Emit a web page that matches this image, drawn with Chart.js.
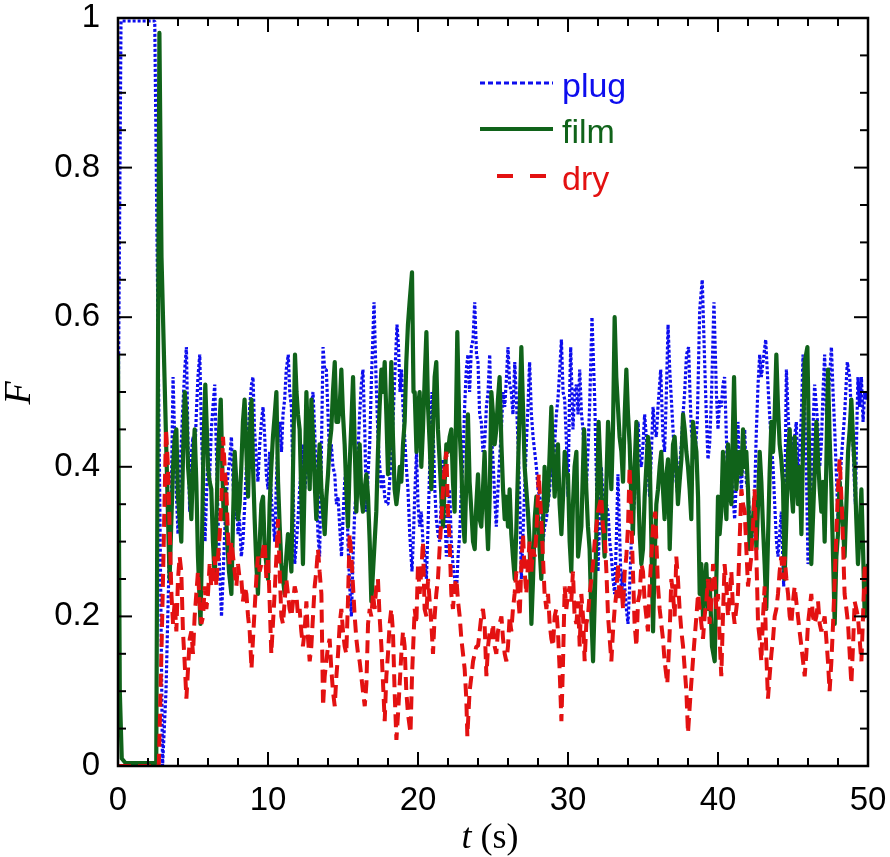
<!DOCTYPE html>
<html><head><meta charset="utf-8">
<script src="https://cdn.jsdelivr.net/npm/chart.js@4.4.0/dist/chart.umd.min.js"></script>
<style>html,body{margin:0;padding:0;background:#fff;}canvas{display:block;}</style>
</head><body>
<canvas id="c" width="890" height="857"></canvas>
<script>
// ---------- data (t in s, F) ----------
const xTickLabels = ['0','10','20','30','40','50'];
const yTickLabels = ['0','0.2','0.4','0.6','0.8','1'];
const seriesNames = ['plug','film','dry'];
const xAxisTitle = ['t', ' (s)'];
const yAxisTitle = 'F';

const plugPoints = [[0,0.43],[0.2,0.996],[2.45,0.996],[2.97,0.0],[3.2,0.1],[3.45,0.31],[3.56,0.37],[3.67,0.52],[3.8,0.42],[3.9,0.36],[4.0,0.31],[4.15,0.40],[4.3,0.47],[4.45,0.53],[4.56,0.56],[4.67,0.43],[4.78,0.34],[4.9,0.42],[5.0,0.44],[5.1,0.40],[5.22,0.47],[5.33,0.52],[5.45,0.55],[5.56,0.45],[5.67,0.38],[5.8,0.30],[5.9,0.36],[6.0,0.42],[6.1,0.38],[6.22,0.45],[6.33,0.48],[6.45,0.51],[6.56,0.42],[6.67,0.33],[6.78,0.26],[6.9,0.20],[7.0,0.25],[7.11,0.31],[7.22,0.36],[7.33,0.39],[7.45,0.41],[7.56,0.44],[7.67,0.38],[7.78,0.33],[7.9,0.36],[8.0,0.31],[8.1,0.33],[8.22,0.28],[8.33,0.30],[8.45,0.35],[8.56,0.40],[8.67,0.44],[8.78,0.48],[8.9,0.51],[9.0,0.52],[9.1,0.45],[9.22,0.41],[9.33,0.38],[9.45,0.43],[9.56,0.46],[9.67,0.48],[9.78,0.44],[9.89,0.39],[10.0,0.37],
[10.11,0.42],[10.22,0.36],[10.33,0.33],[10.45,0.30],[10.56,0.38],[10.67,0.44],[10.78,0.46],[10.9,0.42],[11.0,0.47],[11.11,0.49],[11.22,0.53],[11.35,0.55],[11.45,0.50],[11.56,0.48],[11.67,0.38],[11.78,0.27],[11.9,0.30],[12.0,0.33],[12.11,0.37],[12.22,0.40],[12.33,0.43],[12.45,0.37],[12.56,0.39],[12.67,0.41],[12.78,0.45],[12.9,0.48],[13.0,0.50],[13.11,0.45],[13.22,0.38],[13.33,0.31],[13.44,0.28],[13.56,0.42],[13.67,0.56],[13.78,0.53],[13.89,0.53],[14.0,0.47],[14.11,0.41],[14.22,0.43],[14.33,0.40],[14.45,0.39],[14.56,0.35],[14.67,0.36],[14.78,0.32],[14.9,0.28],[15.0,0.33],[15.11,0.38],[15.22,0.40],[15.33,0.30],[15.45,0.24],[15.56,0.20],[15.67,0.28],[15.78,0.34],[15.89,0.37],[16.0,0.42],[16.11,0.47],[16.22,0.51],[16.33,0.53],[16.45,0.45],[16.56,0.34],[16.67,0.39],[16.78,0.43],[16.9,0.52],[17.07,0.62],[17.2,0.52],[17.33,0.44],[17.45,0.40],[17.56,0.37],[17.67,0.39],[17.78,0.36],[17.9,0.35],[18.0,0.35],[18.11,0.38],[18.22,0.42],[18.33,0.46],[18.45,0.52],[18.6,0.59],[18.7,0.56],[18.8,0.50],[18.9,0.53],[19.0,0.48],[19.11,0.44],[19.22,0.40],[19.33,0.37],[19.45,0.31],[19.6,0.26],[19.7,0.31],[19.78,0.36],[19.9,0.42],[20.0,0.35],
[20.11,0.32],[20.22,0.34],[20.33,0.30],[20.45,0.28],[20.56,0.25],[20.67,0.32],[20.78,0.40],[20.93,0.50],[21.05,0.42],[21.12,0.37],[21.22,0.33],[21.33,0.31],[21.44,0.30],[21.56,0.36],[21.67,0.41],[21.78,0.35],[21.89,0.28],[22.0,0.33],[22.11,0.37],[22.22,0.30],[22.33,0.27],[22.45,0.25],[22.56,0.23],[22.67,0.28],[22.78,0.31],[22.89,0.37],[23.0,0.41],[23.11,0.48],[23.22,0.53],[23.33,0.55],[23.44,0.50],[23.56,0.56],[23.67,0.57],[23.78,0.62],[23.9,0.55],[24.0,0.54],[24.11,0.47],[24.22,0.46],[24.33,0.42],[24.44,0.43],[24.56,0.48],[24.67,0.50],[24.78,0.55],[24.9,0.44],[25.0,0.41],[25.11,0.36],[25.22,0.32],[25.33,0.37],[25.44,0.41],[25.56,0.45],[25.67,0.50],[25.78,0.48],[25.9,0.52],[26.0,0.56],[26.11,0.51],[26.22,0.50],[26.33,0.47],[26.45,0.54],[26.56,0.49],[26.67,0.43],[26.78,0.36],[26.89,0.25],[27.0,0.31],[27.11,0.37],[27.22,0.43],[27.33,0.48],[27.44,0.54],[27.56,0.47],[27.67,0.44],[27.78,0.42],[27.89,0.40],[28.0,0.37],[28.11,0.36],[28.22,0.35],[28.33,0.30],[28.44,0.32],[28.56,0.33],[28.67,0.35],[28.78,0.37],[28.89,0.41],[29.0,0.39],[29.11,0.43],[29.22,0.47],[29.33,0.49],[29.45,0.53],[29.56,0.57],[29.67,0.50],[29.78,0.49],[29.9,0.43],[30.0,0.36],
[30.09,0.48],[30.18,0.56],[30.33,0.45],[30.44,0.50],[30.56,0.51],[30.67,0.47],[30.78,0.53],[30.9,0.47],[31.0,0.45],[31.11,0.40],[31.22,0.37],[31.33,0.42],[31.44,0.48],[31.6,0.60],[31.78,0.49],[31.9,0.38],[32.0,0.26],[32.11,0.33],[32.22,0.40],[32.33,0.36],[32.44,0.32],[32.56,0.35],[32.67,0.34],[32.78,0.30],[32.89,0.28],[33.0,0.25],[33.11,0.23],[33.22,0.30],[33.33,0.39],[33.44,0.31],[33.56,0.23],[33.67,0.26],[33.78,0.24],[33.89,0.21],[34.0,0.19],[34.11,0.24],[34.22,0.30],[34.33,0.33],[34.44,0.36],[34.56,0.41],[34.67,0.46],[34.78,0.41],[34.89,0.40],[35.0,0.43],[35.11,0.47],[35.22,0.44],[35.33,0.40],[35.44,0.36],[35.56,0.42],[35.67,0.48],[35.78,0.45],[35.89,0.44],[36.0,0.48],[36.18,0.53],[36.33,0.44],[36.44,0.42],[36.56,0.50],[36.67,0.59],[36.78,0.53],[36.89,0.49],[37.0,0.45],[37.11,0.41],[37.22,0.38],[37.33,0.36],[37.44,0.40],[37.56,0.43],[37.67,0.47],[37.78,0.50],[37.9,0.55],[38.04,0.56],[38.13,0.50],[38.22,0.45],[38.33,0.43],[38.44,0.41],[38.62,0.46],[38.78,0.61],[38.95,0.65],[39.11,0.54],[39.22,0.47],[39.33,0.41],[39.44,0.43],[39.56,0.49],[39.73,0.62],[39.89,0.50],[40.0,0.45],
[40.11,0.49],[40.22,0.48],[40.33,0.51],[40.44,0.52],[40.56,0.44],[40.67,0.37],[40.78,0.40],[40.89,0.39],[41.0,0.36],[41.11,0.33],[41.22,0.38],[41.33,0.46],[41.44,0.40],[41.56,0.37],[41.67,0.42],[41.78,0.45],[41.89,0.38],[42.0,0.37],[42.11,0.33],[42.22,0.29],[42.33,0.33],[42.44,0.36],[42.56,0.45],[42.67,0.51],[42.78,0.55],[42.89,0.52],[43.0,0.54],[43.18,0.57],[43.33,0.51],[43.44,0.47],[43.56,0.43],[43.67,0.40],[43.78,0.35],[43.9,0.30],[44.0,0.28],[44.11,0.31],[44.22,0.34],[44.38,0.24],[44.56,0.53],[44.67,0.47],[44.78,0.43],[44.89,0.44],[45.0,0.41],[45.11,0.44],[45.22,0.46],[45.33,0.39],[45.44,0.42],[45.56,0.47],[45.67,0.55],[45.78,0.48],[45.89,0.40],[46.0,0.27],[46.11,0.30],[46.22,0.38],[46.33,0.45],[46.44,0.51],[46.56,0.48],[46.67,0.45],[46.78,0.40],[46.89,0.43],[47.0,0.50],[47.11,0.55],[47.22,0.47],[47.33,0.49],[47.44,0.52],[47.56,0.56],[47.67,0.50],[47.78,0.45],[47.89,0.39],[48.0,0.33],[48.11,0.37],[48.22,0.41],[48.33,0.44],[48.44,0.47],[48.62,0.54],[48.78,0.52],[48.89,0.47],[49.0,0.43],[49.09,0.38],[49.16,0.35],[49.24,0.44],[49.33,0.52],[49.44,0.48],[49.56,0.52],[49.67,0.46],[49.78,0.50],[49.89,0.49],[50.0,0.50]];

const filmPoints = [[0,0.55],[0.12,0.1],[0.25,0.01],[0.5,0.004],[2.55,0.004],[2.76,0.98],[2.9,0.68],[3.1,0.52],[3.25,0.40],[3.44,0.25],[3.56,0.33],[3.67,0.40],[3.78,0.44],[3.89,0.45],[4.0,0.36],[4.11,0.33],[4.22,0.30],[4.33,0.41],[4.45,0.50],[4.56,0.47],[4.67,0.40],[4.78,0.37],[4.89,0.33],[5.0,0.40],[5.11,0.45],[5.22,0.38],[5.33,0.28],[5.5,0.19],[5.6,0.30],[5.7,0.43],[5.82,0.51],[5.92,0.45],[6.0,0.40],[6.11,0.38],[6.22,0.37],[6.33,0.30],[6.45,0.25],[6.56,0.33],[6.67,0.42],[6.85,0.49],[6.95,0.40],[7.05,0.33],[7.15,0.37],[7.28,0.30],[7.4,0.26],[7.56,0.23],[7.67,0.33],[7.78,0.42],[7.89,0.38],[8.0,0.33],[8.11,0.35],[8.22,0.40],[8.33,0.46],[8.44,0.49],[8.56,0.42],[8.67,0.36],[8.78,0.44],[8.9,0.49],[9.0,0.40],[9.11,0.33],[9.22,0.27],[9.33,0.23],[9.45,0.30],[9.56,0.35],[9.67,0.36],[9.78,0.29],[9.89,0.27],[10.0,0.25],
[10.11,0.35],[10.22,0.40],[10.33,0.44],[10.45,0.47],[10.56,0.50],[10.67,0.38],[10.78,0.32],[10.89,0.27],[11.0,0.25],[11.11,0.23],[11.22,0.28],[11.33,0.31],[11.44,0.29],[11.56,0.26],[11.67,0.40],[11.8,0.55],[11.9,0.50],[12.0,0.47],[12.11,0.45],[12.22,0.36],[12.33,0.27],[12.44,0.38],[12.56,0.50],[12.67,0.43],[12.78,0.37],[12.89,0.49],[13.0,0.44],[13.11,0.38],[13.22,0.33],[13.33,0.38],[13.44,0.43],[13.56,0.37],[13.67,0.34],[13.78,0.31],[13.89,0.36],[14.0,0.39],[14.11,0.43],[14.22,0.45],[14.33,0.50],[14.45,0.54],[14.56,0.46],[14.67,0.46],[14.78,0.48],[14.89,0.53],[15.0,0.47],[15.11,0.43],[15.22,0.37],[15.33,0.32],[15.44,0.40],[15.56,0.46],[15.67,0.52],[15.78,0.43],[15.89,0.34],[16.0,0.40],[16.11,0.43],[16.22,0.36],[16.33,0.34],[16.44,0.37],[16.56,0.39],[16.67,0.36],[16.78,0.30],[16.89,0.22],[17.0,0.26],[17.11,0.30],[17.22,0.34],[17.33,0.42],[17.44,0.48],[17.56,0.53],[17.67,0.50],[17.78,0.54],[17.89,0.47],[18.0,0.39],[18.11,0.45],[18.22,0.54],[18.33,0.44],[18.44,0.37],[18.56,0.35],[18.67,0.37],[18.78,0.40],[18.89,0.38],[19.0,0.43],[19.11,0.46],[19.22,0.54],[19.33,0.59],[19.44,0.62],[19.6,0.66],[19.7,0.50],[19.78,0.50],[19.9,0.42],[20.0,0.48],
[20.11,0.50],[20.22,0.40],[20.33,0.45],[20.45,0.52],[20.56,0.58],[20.67,0.48],[20.78,0.43],[20.89,0.37],[21.0,0.45],[21.11,0.52],[21.22,0.54],[21.33,0.45],[21.44,0.41],[21.56,0.36],[21.67,0.32],[21.78,0.38],[21.89,0.43],[22.0,0.42],[22.11,0.44],[22.22,0.45],[22.33,0.38],[22.44,0.34],[22.62,0.58],[22.75,0.46],[22.89,0.40],[23.0,0.33],[23.11,0.30],[23.22,0.38],[23.33,0.47],[23.44,0.38],[23.56,0.34],[23.67,0.30],[23.78,0.29],[23.89,0.35],[24.0,0.39],[24.11,0.33],[24.22,0.32],[24.33,0.37],[24.44,0.42],[24.56,0.34],[24.67,0.29],[24.78,0.36],[24.89,0.50],[25.0,0.47],[25.11,0.43],[25.22,0.45],[25.33,0.49],[25.44,0.52],[25.56,0.43],[25.67,0.37],[25.78,0.33],[25.89,0.36],[26.0,0.32],[26.11,0.37],[26.22,0.31],[26.33,0.28],[26.45,0.25],[26.56,0.32],[26.67,0.40],[26.78,0.48],[26.89,0.56],[27.0,0.48],[27.11,0.40],[27.22,0.37],[27.33,0.34],[27.44,0.30],[27.56,0.19],[27.67,0.25],[27.78,0.33],[27.89,0.36],[28.0,0.33],[28.11,0.29],[28.22,0.25],[28.33,0.32],[28.44,0.40],[28.56,0.34],[28.67,0.36],[28.78,0.42],[28.89,0.48],[29.0,0.41],[29.11,0.36],[29.22,0.40],[29.33,0.43],[29.44,0.35],[29.56,0.31],[29.67,0.36],[29.78,0.42],[29.89,0.39],[30.0,0.39],
[30.11,0.30],[30.22,0.26],[30.33,0.35],[30.44,0.40],[30.56,0.42],[30.67,0.28],[30.78,0.30],[30.89,0.32],[31.07,0.45],[31.22,0.37],[31.33,0.32],[31.44,0.29],[31.56,0.20],[31.67,0.14],[31.78,0.22],[31.89,0.31],[32.04,0.46],[32.22,0.37],[32.33,0.32],[32.44,0.28],[32.56,0.38],[32.67,0.46],[32.78,0.42],[32.89,0.37],[33.0,0.45],[33.11,0.60],[33.22,0.52],[33.33,0.48],[33.44,0.44],[33.56,0.42],[33.67,0.38],[33.78,0.47],[33.89,0.53],[34.0,0.47],[34.11,0.43],[34.22,0.36],[34.33,0.31],[34.44,0.40],[34.56,0.46],[34.67,0.38],[34.78,0.31],[34.89,0.27],[35.0,0.29],[35.11,0.36],[35.22,0.40],[35.33,0.44],[35.44,0.42],[35.56,0.30],[35.67,0.18],[35.78,0.28],[35.89,0.35],[36.0,0.37],[36.11,0.40],[36.22,0.42],[36.33,0.37],[36.44,0.33],[36.56,0.39],[36.67,0.41],[36.78,0.29],[36.89,0.36],[37.0,0.43],[37.11,0.44],[37.22,0.40],[37.33,0.35],[37.44,0.38],[37.56,0.41],[37.67,0.47],[37.78,0.45],[37.89,0.42],[38.0,0.40],[38.11,0.37],[38.22,0.33],[38.33,0.46],[38.44,0.44],[38.56,0.42],[38.67,0.36],[38.78,0.23],[38.89,0.27],[39.0,0.20],[39.11,0.24],[39.22,0.27],[39.33,0.21],[39.44,0.25],[39.6,0.16],[39.78,0.14],[39.89,0.25],[40.0,0.36],
[40.11,0.31],[40.22,0.34],[40.33,0.42],[40.44,0.37],[40.56,0.33],[40.67,0.43],[40.78,0.37],[40.89,0.35],[41.07,0.52],[41.22,0.37],[41.33,0.40],[41.44,0.42],[41.56,0.39],[41.67,0.45],[41.78,0.40],[41.89,0.42],[42.0,0.37],[42.11,0.29],[42.22,0.31],[42.33,0.33],[42.44,0.36],[42.56,0.29],[42.67,0.35],[42.78,0.42],[42.89,0.38],[43.0,0.32],[43.11,0.27],[43.22,0.21],[43.33,0.30],[43.44,0.39],[43.56,0.46],[43.67,0.42],[43.78,0.47],[43.89,0.55],[44.0,0.48],[44.11,0.43],[44.22,0.41],[44.33,0.38],[44.44,0.25],[44.56,0.33],[44.67,0.42],[44.78,0.45],[44.89,0.37],[45.0,0.34],[45.11,0.44],[45.22,0.39],[45.33,0.35],[45.44,0.40],[45.56,0.31],[45.67,0.43],[45.78,0.54],[45.96,0.56],[46.11,0.37],[46.22,0.27],[46.33,0.33],[46.44,0.39],[46.56,0.46],[46.67,0.41],[46.78,0.37],[46.89,0.34],[47.0,0.38],[47.11,0.30],[47.22,0.40],[47.33,0.53],[47.44,0.44],[47.56,0.37],[47.67,0.28],[47.78,0.19],[47.89,0.28],[48.0,0.31],[48.11,0.38],[48.22,0.35],[48.33,0.32],[48.44,0.28],[48.56,0.35],[48.67,0.42],[48.78,0.45],[48.89,0.49],[49.0,0.44],[49.11,0.40],[49.22,0.33],[49.33,0.27],[49.44,0.31],[49.56,0.37],[49.67,0.29],[49.78,0.20],[49.89,0.25],[50.0,0.27]];

const dryPoints = [[0,0.0],[2.72,0.0],[2.95,0.2],[3.2,0.45],[3.33,0.40],[3.44,0.32],[3.56,0.23],[3.67,0.19],[3.78,0.22],[3.89,0.18],[4.0,0.25],[4.11,0.28],[4.22,0.26],[4.33,0.18],[4.44,0.14],[4.56,0.09],[4.67,0.13],[4.78,0.17],[4.89,0.18],[5.0,0.15],[5.11,0.20],[5.22,0.23],[5.33,0.26],[5.44,0.22],[5.56,0.19],[5.67,0.20],[5.78,0.24],[5.89,0.21],[6.0,0.23],[6.11,0.27],[6.22,0.24],[6.33,0.26],[6.44,0.28],[6.56,0.24],[6.67,0.28],[6.78,0.31],[6.9,0.36],[7.0,0.44],[7.11,0.40],[7.22,0.37],[7.33,0.31],[7.44,0.27],[7.56,0.30],[7.67,0.28],[7.78,0.26],[7.89,0.24],[8.0,0.27],[8.11,0.25],[8.22,0.25],[8.33,0.22],[8.44,0.24],[8.56,0.23],[8.67,0.20],[8.78,0.18],[8.9,0.13],[9.0,0.17],[9.11,0.21],[9.22,0.25],[9.33,0.28],[9.44,0.26],[9.56,0.27],[9.67,0.29],[9.78,0.30],[9.89,0.25],[10.0,0.28],
[10.11,0.22],[10.22,0.15],[10.33,0.19],[10.44,0.23],[10.56,0.28],[10.67,0.33],[10.78,0.26],[10.89,0.20],[11.0,0.19],[11.11,0.22],[11.22,0.25],[11.33,0.23],[11.44,0.21],[11.56,0.20],[11.67,0.22],[11.78,0.24],[11.89,0.23],[12.0,0.20],[12.11,0.21],[12.22,0.18],[12.33,0.16],[12.44,0.18],[12.56,0.22],[12.67,0.17],[12.78,0.14],[12.89,0.16],[13.0,0.20],[13.11,0.24],[13.22,0.26],[13.33,0.29],[13.44,0.26],[13.56,0.23],[13.67,0.08],[13.78,0.12],[13.89,0.14],[14.0,0.16],[14.11,0.17],[14.22,0.13],[14.33,0.10],[14.45,0.08],[14.56,0.12],[14.67,0.15],[14.78,0.19],[14.89,0.21],[15.0,0.18],[15.11,0.16],[15.22,0.15],[15.33,0.22],[15.44,0.31],[15.56,0.28],[15.67,0.24],[15.78,0.20],[15.89,0.17],[16.0,0.15],[16.11,0.14],[16.22,0.12],[16.33,0.10],[16.45,0.08],[16.56,0.11],[16.67,0.19],[16.78,0.21],[16.89,0.20],[17.0,0.23],[17.11,0.21],[17.22,0.24],[17.33,0.25],[17.44,0.20],[17.56,0.16],[17.67,0.11],[17.78,0.06],[17.89,0.12],[18.0,0.15],[18.11,0.19],[18.22,0.21],[18.33,0.18],[18.44,0.10],[18.56,0.035],[18.67,0.07],[18.78,0.11],[18.89,0.15],[19.0,0.18],[19.11,0.16],[19.22,0.10],[19.33,0.07],[19.5,0.044],[19.6,0.12],[19.78,0.21],[19.89,0.19],[20.0,0.27],
[20.11,0.23],[20.22,0.26],[20.33,0.30],[20.44,0.21],[20.56,0.20],[20.67,0.25],[20.78,0.22],[20.89,0.19],[21.0,0.15],[21.11,0.20],[21.22,0.23],[21.33,0.25],[21.44,0.29],[21.56,0.33],[21.67,0.37],[21.78,0.40],[21.89,0.42],[22.0,0.34],[22.11,0.30],[22.22,0.23],[22.33,0.21],[22.44,0.24],[22.56,0.25],[22.67,0.22],[22.78,0.20],[22.89,0.17],[23.0,0.15],[23.11,0.13],[23.22,0.09],[23.29,0.04],[23.44,0.10],[23.56,0.12],[23.67,0.14],[23.78,0.15],[23.89,0.16],[24.0,0.16],[24.11,0.18],[24.22,0.20],[24.33,0.21],[24.44,0.19],[24.56,0.12],[24.67,0.16],[24.78,0.18],[24.89,0.17],[25.0,0.19],[25.11,0.16],[25.22,0.15],[25.33,0.18],[25.44,0.19],[25.56,0.20],[25.67,0.17],[25.78,0.15],[25.89,0.14],[26.0,0.16],[26.11,0.20],[26.22,0.18],[26.33,0.21],[26.44,0.23],[26.56,0.26],[26.67,0.23],[26.78,0.20],[26.89,0.27],[27.0,0.31],[27.11,0.26],[27.22,0.23],[27.33,0.27],[27.44,0.30],[27.56,0.26],[27.67,0.29],[27.78,0.28],[27.89,0.31],[28.05,0.39],[28.22,0.33],[28.33,0.28],[28.44,0.23],[28.56,0.21],[28.67,0.23],[28.78,0.19],[28.89,0.17],[29.0,0.16],[29.11,0.20],[29.22,0.21],[29.33,0.18],[29.44,0.13],[29.56,0.06],[29.67,0.14],[29.78,0.24],[29.89,0.21],[30.0,0.23],
[30.11,0.24],[30.22,0.22],[30.33,0.26],[30.44,0.20],[30.56,0.19],[30.67,0.22],[30.78,0.16],[30.89,0.23],[31.0,0.20],[31.11,0.14],[31.22,0.19],[31.33,0.20],[31.44,0.23],[31.56,0.25],[31.67,0.27],[31.78,0.30],[31.89,0.32],[32.0,0.34],[32.11,0.35],[32.22,0.36],[32.33,0.32],[32.44,0.31],[32.56,0.26],[32.67,0.20],[32.78,0.17],[32.89,0.14],[33.0,0.18],[33.11,0.21],[33.22,0.23],[33.33,0.27],[33.44,0.22],[33.56,0.24],[33.67,0.21],[33.78,0.26],[33.89,0.28],[34.0,0.32],[34.11,0.40],[34.22,0.33],[34.33,0.26],[34.44,0.19],[34.56,0.16],[34.67,0.22],[34.78,0.23],[34.89,0.27],[35.0,0.26],[35.11,0.22],[35.22,0.20],[35.33,0.18],[35.44,0.24],[35.56,0.28],[35.67,0.32],[35.82,0.34],[36.0,0.24],[36.11,0.21],[36.22,0.19],[36.33,0.17],[36.44,0.14],[36.62,0.11],[36.78,0.18],[36.89,0.25],[37.0,0.23],[37.11,0.20],[37.22,0.28],[37.33,0.25],[37.44,0.21],[37.56,0.18],[37.67,0.16],[37.78,0.13],[37.89,0.10],[38.0,0.044],[38.18,0.10],[38.29,0.13],[38.4,0.16],[38.56,0.20],[38.67,0.23],[38.78,0.21],[38.89,0.19],[39.0,0.17],[39.11,0.20],[39.22,0.22],[39.33,0.25],[39.44,0.19],[39.56,0.22],[39.67,0.27],[39.78,0.25],[39.89,0.21],[40.0,0.23],
[40.11,0.17],[40.22,0.12],[40.33,0.20],[40.44,0.27],[40.56,0.24],[40.67,0.20],[40.78,0.23],[40.89,0.26],[41.0,0.21],[41.11,0.19],[41.22,0.21],[41.33,0.23],[41.44,0.30],[41.56,0.37],[41.67,0.35],[41.78,0.34],[41.89,0.29],[42.0,0.24],[42.11,0.26],[42.22,0.28],[42.33,0.32],[42.44,0.37],[42.56,0.28],[42.67,0.19],[42.78,0.17],[42.89,0.14],[43.0,0.20],[43.11,0.24],[43.22,0.15],[43.33,0.09],[43.44,0.12],[43.56,0.15],[43.67,0.17],[43.78,0.20],[43.89,0.21],[44.0,0.23],[44.11,0.26],[44.22,0.28],[44.33,0.25],[44.44,0.28],[44.56,0.25],[44.67,0.23],[44.78,0.20],[44.89,0.19],[45.0,0.22],[45.11,0.24],[45.22,0.22],[45.33,0.20],[45.44,0.18],[45.56,0.16],[45.67,0.14],[45.78,0.12],[45.89,0.15],[46.0,0.19],[46.11,0.21],[46.22,0.23],[46.33,0.20],[46.44,0.19],[46.56,0.20],[46.67,0.22],[46.78,0.19],[46.89,0.18],[47.0,0.19],[47.11,0.20],[47.22,0.17],[47.33,0.14],[47.44,0.10],[47.56,0.14],[47.67,0.19],[47.78,0.25],[47.89,0.31],[48.0,0.37],[48.11,0.41],[48.27,0.34],[48.44,0.23],[48.56,0.21],[48.67,0.19],[48.78,0.15],[48.89,0.11],[49.0,0.16],[49.11,0.22],[49.22,0.21],[49.33,0.20],[49.44,0.17],[49.56,0.14],[49.67,0.20],[49.78,0.27],[49.89,0.24],[50.0,0.23]];

// ---------- styles ----------
const BLUE = '#0d0dee', GREEN = '#10631a', RED = '#e31111';
const toXY = pts => pts.map(p => ({x: p[0], y: p[1]}));

const overlay = {
  id: 'overlay',
  afterDraw(chart) {
    const ctx = chart.ctx, a = chart.chartArea, xs = chart.scales.x, ys = chart.scales.y;
    ctx.save();
    ctx.strokeStyle = '#000';
    ctx.lineWidth = 2;
    ctx.lineCap = 'butt';
    const seg = (x1, y1, x2, y2) => { ctx.beginPath(); ctx.moveTo(x1, y1); ctx.lineTo(x2, y2); ctx.stroke(); };
    for (let i = 0; i <= 25; i++) {
      const px = xs.getPixelForValue(i * 2);
      const len = (i % 5 === 0) ? 14 : 8;
      seg(px, a.bottom, px, a.bottom - len);
      seg(px, a.top, px, a.top + len);
    }
    for (let i = 0; i <= 20; i++) {
      const py = ys.getPixelForValue(i * 0.05);
      const len = (i % 4 === 0) ? 14 : 8;
      seg(a.left, py, a.left + len, py);
      seg(a.right, py, a.right - len, py);
    }
    ctx.lineWidth = 2.5;
    ctx.strokeRect(a.left, a.top, a.right - a.left, a.bottom - a.top);

    // axis titles
    ctx.fillStyle = '#000';
    ctx.textBaseline = 'alphabetic';
    ctx.textAlign = 'left';
    const fI = 'italic 36px "Liberation Serif"', fR = '36px "Liberation Serif"';
    ctx.font = fI; const w1 = ctx.measureText(xAxisTitle[0]).width;
    ctx.font = fR; const w2 = ctx.measureText(xAxisTitle[1]).width;
    const x0 = 490 - (w1 + w2) / 2;
    ctx.font = fI; ctx.fillText(xAxisTitle[0], x0, 848);
    ctx.font = fR; ctx.fillText(xAxisTitle[1], x0 + w1, 848);

    ctx.save();
    ctx.translate(30, 393);
    ctx.rotate(-Math.PI / 2);
    ctx.font = 'italic 38px "Liberation Serif"';
    ctx.textAlign = 'center';
    ctx.textBaseline = 'alphabetic';
    ctx.fillText(yAxisTitle, 0, 0);
    ctx.restore();

    // legend
    const items = [
      {c: BLUE, w: 3, dash: [5, 3], x1: 480, x2: 553, y: 83, ty: 97},
      {c: GREEN, w: 4, dash: [], x1: 480, x2: 553, y: 129, ty: 143},
      {c: RED, w: 4, dash: [16, 17], x1: 497, x2: 550, y: 176, ty: 190}
    ];
    items.forEach((it, i) => {
      ctx.strokeStyle = it.c; ctx.lineWidth = it.w; ctx.setLineDash(it.dash);
      seg(it.x1, it.y, it.x2, it.y);
      ctx.setLineDash([]);
      ctx.fillStyle = it.c;
      ctx.font = '34px "Liberation Sans"';
      ctx.textAlign = 'left';
      ctx.textBaseline = 'alphabetic';
      ctx.fillText(seriesNames[i], 562, it.ty);
    });
    ctx.restore();
  }
};

const tickFont = {family: '"Liberation Sans", Arial, sans-serif', size: 33, lineHeight: 1};

new Chart(document.getElementById('c'), {
  type: 'line',
  data: {
    datasets: [
      {label: seriesNames[0], data: toXY(plugPoints), borderColor: BLUE, borderWidth: 3.2, borderDash: [3, 2], pointRadius: 0, tension: 0, order: 3, borderJoinStyle: 'bevel', fill: false},
      {label: seriesNames[1], data: toXY(filmPoints), borderColor: GREEN, borderWidth: 4.2, pointRadius: 0, tension: 0, order: 2, borderJoinStyle: 'round', fill: false},
      {label: seriesNames[2], data: toXY(dryPoints), borderColor: RED, borderWidth: 4, borderDash: [13, 7], pointRadius: 0, tension: 0, order: 1, borderJoinStyle: 'bevel', fill: false}
    ]
  },
  options: {
    responsive: false,
    animation: false,
    devicePixelRatio: 1,
    layout: {padding: {top: 18, right: 22, left: 0, bottom: 0}},
    plugins: {legend: {display: false}, tooltip: {enabled: false}},
    scales: {
      x: {
        type: 'linear', min: 0, max: 50,
        grid: {display: false, drawTicks: false},
        border: {display: false},
        ticks: {stepSize: 10, color: '#000', font: tickFont, padding: 18, maxRotation: 0,
                callback: (v, i) => xTickLabels[i]},
        afterFit: s => { s.height = 91; s.paddingLeft = 0; s.paddingRight = 0; }
      },
      y: {
        type: 'linear', min: 0, max: 1,
        grid: {display: false, drawTicks: false},
        border: {display: false},
        ticks: {stepSize: 0.2, color: '#000', font: tickFont, padding: 18,
                callback: (v, i) => yTickLabels[i]},
        afterFit: s => { s.width = 118; s.paddingTop = 0; s.paddingBottom = 0; }
      }
    }
  },
  plugins: [overlay]
});
</script>
</body></html>
